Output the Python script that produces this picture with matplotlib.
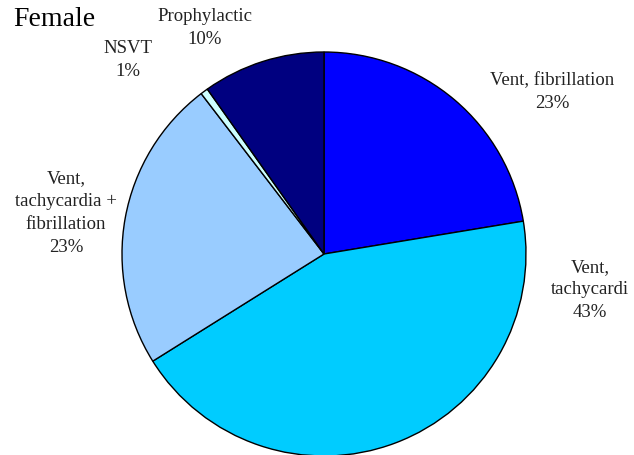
import matplotlib
matplotlib.use("Agg")
import matplotlib.pyplot as plt

categories = ["Vent, fibrillation", "Vent, tachycardi", "Vent, tachycardia + fibrillation", "NSVT", "Prophylactic"]
values = [22.4, 43.7, 23.5, 0.6, 9.8]
pct_labels = ["23%", "43%", "23%", "1%", "10%"]
label_texts = ["Vent, fibrillation\n23%", "Vent,\ntachycardi\n43%", "Vent,\ntachycardia +\nfibrillation\n23%", "NSVT\n1%", "Prophylactic\n10%"]
colors = ["#0000FF", "#00CCFF", "#99CCFF", "#CCFFFF", "#000080"]

W, H = 634, 455
fig = plt.figure(figsize=(W/100, H/100), dpi=100)
cx, cy, r = 324, 254, 202
ax = fig.add_axes([(cx - r)/W, (H - cy - r)/H, 2*r/W, 2*r/H])
ax.pie(values, colors=colors, startangle=90, counterclock=False, radius=1,
       wedgeprops=dict(edgecolor="black", linewidth=1.0))
ax.set_xlim(-1, 1)
ax.set_ylim(-1, 1)
ax.set_aspect("auto")
ax.axis("off")

font = "Liberation Serif"
positions = [(552, 92), (590, 290), (66, 213), (128, 60), (205, 28)]
for txt, (px, py) in zip(label_texts, positions):
    fig.text(px/W, 1 - py/H, txt, ha="center", va="center", fontsize=13.5,
             family=font, color="#222222", linespacing=1.45)

fig.text(13/W, 1 - 20/H, "Female", ha="left", va="center", fontsize=20,
         family=font, color="black")

fig.savefig("out.png", dpi=100)
